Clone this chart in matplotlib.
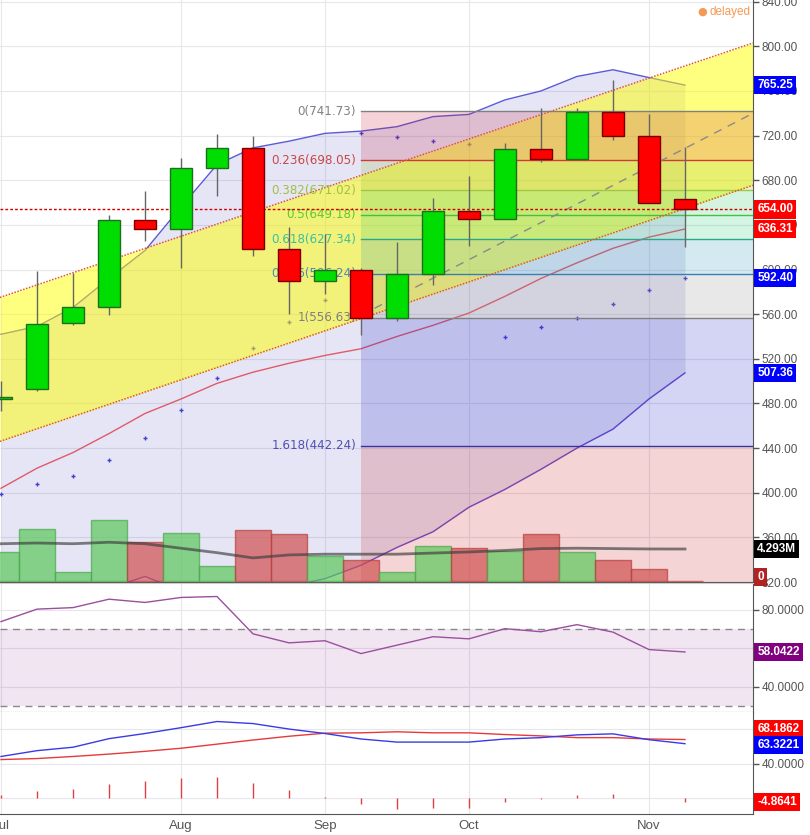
import matplotlib
matplotlib.use('Agg')
import matplotlib.pyplot as plt
import matplotlib.transforms as mtransforms
from matplotlib.patches import Rectangle

plt.rcParams['font.family'] = ['Liberation Sans', 'DejaVu Sans']

# ---------------- data ----------------
opens  = [484, 493, 552, 566, 644, 636, 691, 709, 618, 590, 600, 557, 596, 652, 645, 708, 699, 741, 720, 663]
highs  = [500, 599, 597, 649, 670, 700, 721, 720, 638, 632, 601, 625, 664, 684, 713, 745, 745, 770, 739, 710]
lows   = [473, 491, 550, 559, 626, 601, 666, 612, 560, 578, 541, 554, 586, 621, 645, 696, 699, 716, 660, 620]
closes = [486, 551, 566, 644, 636, 691, 709, 618, 590, 600, 557, 596, 652, 645, 708, 699, 741, 720, 660, 654]

bb_upper  = [542, 549, 566, 592, 617, 656, 694, 709, 715, 722, 724, 728, 737, 739, 752, 760, 773, 779, 772, 765.25]
bb_middle = [404, 422, 436, 453, 471, 484, 498, 508, 516, 523, 529, 540, 550, 561, 576, 592, 606, 619, 629, 636.31]
bb_lower  = [266, 295, 306, 314, 325, 312, 302, 307, 316, 323, 335, 351, 365, 387, 403, 421, 440, 457, 484, 507.36]

sar = [398.6, 407.6, 414.8, 429, 449, 474, 503, 530, 553, 573, 722, 718.7, 715, 712.4,
       539.8, 548.8, 556.9, 569.4, 582, 592.40]

volume_m = [3.9, 7.0, 1.2, 8.2, 5.2, 6.4, 2.0, 6.8, 6.3, 3.4, 2.8, 1.2, 4.7, 4.4, 4.0, 6.3, 3.9, 2.8, 1.6, 0.0]
volume_ma = [5.0, 5.1, 5.0, 5.2, 5.0, 4.4, 3.8, 3.1, 3.5, 3.6, 3.6, 3.6, 3.75, 3.9, 4.1, 4.35, 4.4, 4.35, 4.3, 4.293]

rsi = [73.9, 80.4, 81.2, 85.6, 83.9, 86.5, 87.0, 67.5, 62.8, 63.9, 57.2, 61.6, 66.0, 64.9,
       70.2, 68.6, 72.3, 68.4, 59.3, 58.0422]

osc_blue = [48.4, 55.2, 59.2, 69.2, 75.2, 82.0, 89.2, 86.8, 80.4, 75.2, 68.8, 65.2, 65.2, 65.2,
            68.8, 70.4, 73.6, 74.8, 68.0, 63.3221]
osc_red = [44.8, 46.0, 48.4, 51.2, 54.4, 58.0, 62.8, 67.6, 72.0, 75.6, 76.0, 77.2, 76.0, 76.0,
           74.0, 72.4, 70.4, 70.4, 68.8, 68.1862]
osc_hist = [3.2, 8.0, 10.4, 16.4, 20.0, 23.6, 24.8, 17.6, 9.2, 1.6, -7.6, -12.4, -11.2, -11.2,
            -5.2, -1.6, 3.2, 4.8, 0.4, -4.8641]

month_labels = ['Jul', 'Aug', 'Sep', 'Oct', 'Nov']
month_pos = [0, 5, 9, 13, 18]

fib_ratios = ['0', '0.236', '0.382', '0.5', '0.618', '0.786', '1', '1.618']
fib_prices = [741.73, 698.05, 671.02, 649.18, 627.34, 596.24, 556.63, 442.24]
fib_floor = 257.15
fib_start = 10

channel_x = [-0.03, 20.89]
channel_upper = [575, 803]
channel_lower = [446, 675.5]
trend_x = [10, 20.89]
trend_y = [559, 740]

last_price = 654.00

# ---------------- styling ----------------
fib_fill = ['#c81e3c', '#8cb430', '#28c864', '#28c878', '#2896b4', '#8c8c8c', '#2828c8', '#c82828']
fib_line = ['#808080', '#d03a3a', '#a0c846', '#44c044', '#2aa88c', '#3a7fb0', '#808080', '#3a32a0']
fib_text = ['#808080', '#c84646', '#a0c040', '#5cc830', '#3cc09c', '#4a8cb0', '#808080', '#5050b0']

XMIN, XMAX = -0.028, 20.89
GREY = '#555555'

fig = plt.figure(figsize=(8.1, 8.35), dpi=100)
ax = fig.add_axes([0, 0.30299, 0.92963, 0.69701])
axr = fig.add_axes([0, 0.14731, 0.92963, 0.15449])
axm = fig.add_axes([0, 0.02515, 0.92963, 0.12216])
axr.set_zorder(2)
axm.set_zorder(2)


def style(a):
    a.set_xlim(XMIN, XMAX)
    a.spines['left'].set_visible(False)
    a.spines['top'].set_visible(False)
    a.spines['right'].set_color(GREY)
    a.spines['bottom'].set_color(GREY)
    a.yaxis.tick_right()
    a.tick_params(axis='y', colors=GREY, labelsize=8.5, length=4, width=1, pad=2)
    a.tick_params(axis='x', length=0, colors=GREY, labelsize=9.5, pad=4)
    a.set_xticks(month_pos)
    a.grid(True, color='#e6e6ec', lw=0.8)
    a.set_axisbelow(True)


def tag(a, y, text, fc, dy=0.0, fs=8.5):
    tr = mtransforms.blended_transform_factory(a.transAxes, a.transData)
    a.annotate(text, xy=(1.0, y), xycoords=tr, xytext=(3.0, dy), textcoords='offset points',
               ha='left', va='center', color='white', fontsize=fs, fontweight='bold',
               bbox=dict(boxstyle='square,pad=0.28', fc=fc, ec='none'),
               annotation_clip=False, zorder=20)


idx = list(range(len(opens)))

# ---------------- main panel ----------------
style(ax)
ax.set_ylim(320, 841.5)
ax.set_xticklabels([])

ax.fill_between(idx, bb_lower, bb_upper, color='#7070c8', alpha=0.18, lw=0, zorder=1)
ax.plot(idx, bb_upper, color='#5a5ad8', lw=1, zorder=1.2)
ax.plot(idx, bb_middle, color='#e05a6a', lw=1, zorder=1.2)
ax.plot(idx, bb_lower, color='#6a4ad0', lw=1, zorder=1.2)
ax.plot(idx, sar, ls='none', marker='+', ms=3.5, mew=1, color='#4040d0', zorder=1.3)

ax.fill_between(channel_x, channel_lower, channel_upper, color='#ffff00', alpha=0.5, lw=0, zorder=1.5)

levels = fib_prices + [fib_floor]
for k in range(len(fib_prices)):
    ax.fill_between([fib_start, XMAX], levels[k + 1], levels[k], color=fib_fill[k], alpha=0.2,
                    lw=0, zorder=2)
    ax.plot([fib_start, XMAX], [fib_prices[k], fib_prices[k]], color=fib_line[k], lw=1, zorder=2.5)
    ax.text(fib_start - 0.14, fib_prices[k], f'{fib_ratios[k]}({fib_prices[k]:.2f})',
            ha='right', va='center', color=fib_text[k], fontsize=8.6, family='DejaVu Sans',
            zorder=3.5)

ax.plot(channel_x, channel_upper, color='#e0582a', lw=1.1, ls=(0, (1, 1)), zorder=3)
ax.plot(channel_x, channel_lower, color='#e0582a', lw=1.1, ls=(0, (1, 1)), zorder=3)
ax.plot(trend_x, trend_y, color='#8a8a8a', lw=1, ls=(0, (6, 5)), zorder=3)
ax.axhline(last_price, color='#cc0000', lw=1, ls=(0, (2, 1.5)), zorder=3.5)

bw = 0.61
for i in idx:
    o, h, l, c = opens[i], highs[i], lows[i], closes[i]
    up = c >= o
    ax.vlines(i, l, h, color='#666666', lw=1, zorder=4.5)
    ax.add_patch(Rectangle((i - bw / 2, min(o, c)), bw, max(abs(c - o), 1.0),
                           facecolor='#00dd00' if up else '#ff0000',
                           edgecolor='#1e6e1e' if up else '#7a0000', lw=1, zorder=5))

# volume overlay
axv = ax.twinx()
axv.set_xlim(XMIN, XMAX)
axv.set_ylim(-0.13, 77.9)
axv.set_axis_off()
vcol = ['#5cc85c' if closes[i] >= opens[i] else '#d05050' for i in idx]
vedge = ['#4aa84a' if closes[i] >= opens[i] else '#b83c3c' for i in idx]
axv.bar(idx, volume_m, width=1.0, color=vcol, edgecolor=vedge, lw=1, alpha=0.7, zorder=2)
axv.plot(idx, volume_ma, color='#3c3c3c', lw=2, alpha=0.65, zorder=3)

# price axis on the right (twinx moved it)
ax.yaxis.tick_right()
ax.yaxis.set_label_position('right')
ax.set_yticks(list(range(320, 841, 40)))
ax.set_yticklabels([f'{v:.2f}' for v in range(320, 841, 40)])
ax.tick_params(axis='y', colors=GREY, labelsize=8.5, length=4, width=1, pad=2,
               left=False, labelleft=False, right=True, labelright=True)

tag(ax, bb_upper[-1], f'{bb_upper[-1]:.2f}', '#0000ff')
tag(ax, last_price, f'{last_price:.2f}', '#ff0000')
tag(ax, bb_middle[-1], f'{bb_middle[-1]:.2f}', '#ff0000')
tag(ax, sar[-1], f'{sar[-1]:.2f}', '#0000ff')
tag(ax, bb_lower[-1], f'{bb_lower[-1]:.2f}', '#0000ff')
tag(axv, volume_ma[-1], f'{volume_ma[-1]:.3f}M', '#000000')
tag(axv, volume_m[-1], '0', '#b22222', dy=3)

fig.text(702 / 810, 1 - 12 / 835, '\u25cf', color='#f59a55', fontsize=8, ha='center', va='center',
         family='DejaVu Sans')
fig.text(710 / 810, 1 - 12 / 835, 'delayed', color='#f59a55', fontsize=8.5, ha='left', va='center')

# ---------------- RSI panel ----------------
style(axr)
axr.spines['top'].set_visible(True)
axr.spines['top'].set_color('#cccccc')
axr.set_ylim(26.7, 94.05)
axr.set_yticks([40, 60, 80])
axr.set_yticklabels(['40.0000', '', '80.0000'])
axr.set_xticklabels([])
axr.fill_between([XMIN, XMAX], 30, 70, color='#800080', alpha=0.1, lw=0, zorder=1)
axr.axhline(70, color='#888888', lw=1, ls=(0, (5, 4)), zorder=2)
axr.axhline(30, color='#888888', lw=1, ls=(0, (5, 4)), zorder=2)
axr.plot(idx, rsi, color='#9a509e', lw=1, zorder=3)
tag(axr, rsi[-1], f'{rsi[-1]:.4f}', '#800080')

# ---------------- oscillator panel ----------------
style(axm)
axm.set_ylim(-18.7, 100.3)
axm.set_yticks([0, 40, 80])
axm.set_yticklabels(['', '40.0000', ''])
axm.set_xticklabels(month_labels)
axm.vlines(idx, 0, osc_hist, color='#e04040', lw=1, zorder=2)
axm.plot(idx, osc_red, color='#e63a3a', lw=1, zorder=3)
axm.plot(idx, osc_blue, color='#3a3ae6', lw=1, zorder=3)
tag(axm, osc_red[-1], f'{osc_red[-1]:.4f}', '#ff0000', dy=7.5)
tag(axm, osc_blue[-1], f'{osc_blue[-1]:.4f}', '#0000ff', dy=-1)
tag(axm, osc_hist[-1], f'{osc_hist[-1]:.4f}', '#ff0000')

fig.savefig('out.png', dpi=100)
